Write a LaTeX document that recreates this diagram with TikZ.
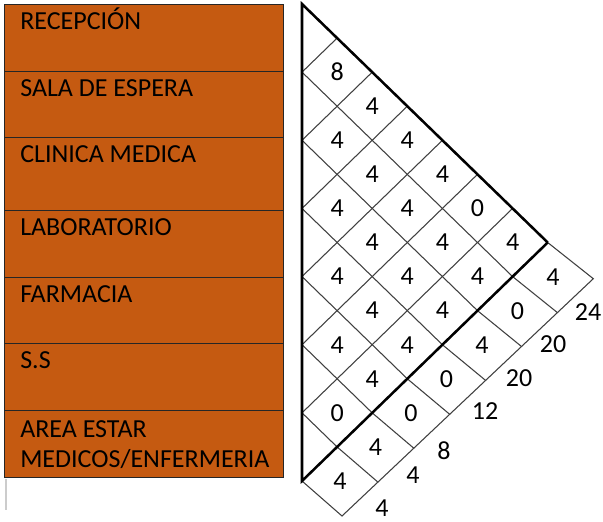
\documentclass[tikz,border=0pt]{standalone}
\usepackage{fontspec}
\setmainfont{Carlito}
\usepackage{tikz}
\usetikzlibrary{calc}
\definecolor{roomorange}{HTML}{C55A11}
\tikzset{
	roombox/.style={draw=black!85, fill=roomorange, line width=0.8pt, inner sep=0pt, anchor=north west, minimum width=209.25pt}, % the department boxes
	roomtext/.style={anchor=base west, inner sep=0pt, align=left, font=\fontsize{19.5}{22.5}\selectfont}, % names written in the boxes
	gridline/.style={draw=black!75, line width=0.8pt}, % thin lines of the diamonds
	thickline/.style={draw=black, line width=1.9pt, line join=miter}, % heavy outline of the triangle
	num/.style={inner sep=0pt, font=\fontsize{19.5}{22.5}\selectfont}, % ratings and totals
}

\begin{document}
\begin{tikzpicture}[x=0.75pt,y=-0.75pt]
	\useasboundingbox (0,0) rectangle (603,521);
	\def\hx{35.1} % half width of a diamond
	\def\hy{34.07} % half height of a diamond
	% department boxes
	\foreach \k/\t/\b/\d/\name in {1/4/71/25.5/RECEPCIÓN, 2/71/137/25.5/SALA DE ESPERA, 3/137/210/25.5/CLINICA MEDICA, 4/210/277/25.5/LABORATORIO, 5/277/343/25.5/FARMACIA, 6/343/410/25.5/S.S, 7/410/477/57/{AREA ESTAR\\MEDICOS/ENFERMERIA}}{
		\node[roombox, minimum height={(\b-\t)*0.75pt}] (room\k) at (4,\t) {};
		\node[roomtext] (name\k) at ($(room\k.north west)+(16,\d)$) {\name};
	}
	\draw[black!20, line width=0.8pt] (6,479) -- (6,510);
	% corners of the chart
	\foreach \n in {0,...,7}{
		\coordinate (l\n) at (302,{4+2*\n*\hy});
		\coordinate (t\n) at ({302+\n*\hx},{4+\n*\hy});
		\coordinate (b\n) at ({302+\n*\hx},{481-\n*\hy});
		\coordinate (o\n) at ({342+\n*35.9},{516-\n*33.9});
	}
	% thin lines
	\foreach \n in {1,...,6}{
		\pgfmathtruncatemacro\m{7-\n}
		\draw[gridline] (l\n) -- (t\n);
		\draw[gridline] (l\n) -- (b\m) -- (o\m);
	}
	\draw[gridline] (b0) -- (o0) -- (o7) -- (b7);
	% heavy outline
	\draw[thickline] (t7) -- (l0) -- (l7) -- (b7);
	% ratings inside the triangle
	\foreach \i/\j/\v in {1/2/8, 2/3/4, 3/4/4, 4/5/4, 5/6/4, 6/7/0, 1/3/4, 2/4/4, 3/5/4, 4/6/4, 5/7/4, 1/4/4, 2/5/4, 3/6/4, 4/7/4, 1/5/4, 2/6/4, 3/7/4, 1/6/0, 2/7/4, 1/7/4}
		\node[num] (pair\i\j) at ({302+(\j-\i)*\hx},{4+(\i+\j-1)*\hy}) {\v};
	% outer row
	\foreach \i/\v in {1/4, 2/0, 3/4, 4/0, 5/0, 6/4, 7/4}{
		\pgfmathtruncatemacro\m{7-\i}
		\pgfmathtruncatemacro\k{8-\i}
		\node[num] (pair\i8) at ($(b\m)!0.5!(o\k)$) {\v};
	}
	% totals
	\foreach \i/\px/\py/\v in {1/588/312/24, 2/553/344/20, 3/519/378/20, 4/485/411/12, 5/444/451/8, 6/413/475/4, 7/382/508/4}
		\node[num] (sum\i) at (\px,\py) {\v};
\end{tikzpicture}
\end{document}
